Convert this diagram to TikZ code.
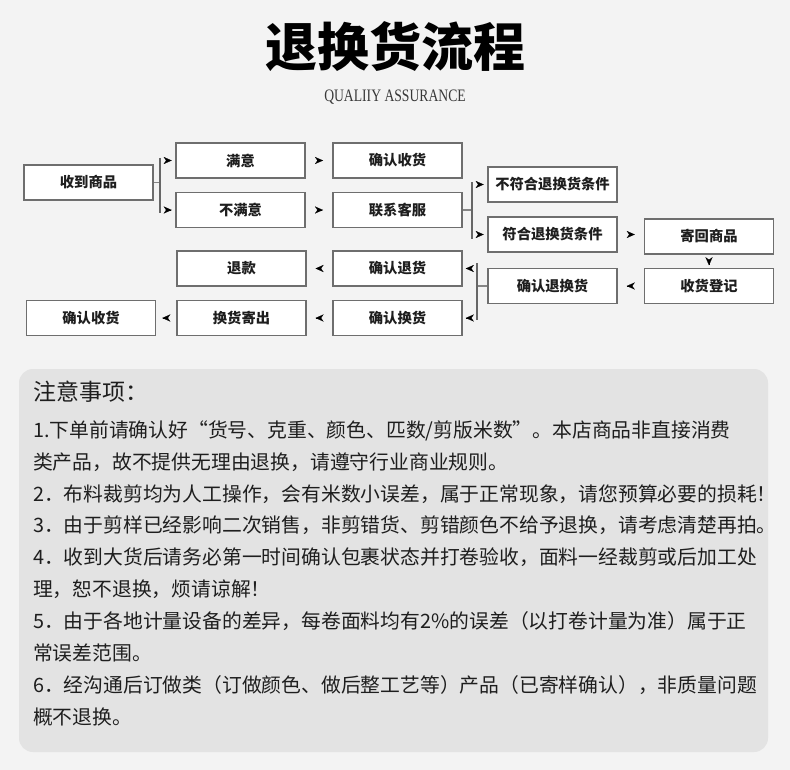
\documentclass[tikz,border=0pt]{standalone}
\usepackage{graphicx}
\usepackage{fontspec}
\setmainfont{Liberation Serif}
\newfontfamily\cjk{Noto Sans CJK SC}
\usetikzlibrary{arrows.meta,calc}
\definecolor{bgc}{HTML}{F3F3F3}
\definecolor{panelc}{HTML}{E3E3E3}
\definecolor{linec}{HTML}{666666}
\definecolor{boxc}{HTML}{6E6E6E}
\definecolor{stubc}{HTML}{858585}
\definecolor{textc}{HTML}{1E1E1E}
\newcommand\gapar[2]{\draw[tipar] ($($(#1)!0.5!(#2)$)!3.4pt!(#2)$) -- ($($(#1)!0.5!(#2)$)!4pt!(#2)$);}
\begin{document}
\begin{tikzpicture}[x=1pt,y=-1pt,
  box/.style={draw=boxc, line width=1.2pt, fill=white, minimum width=129pt, minimum height=35pt,
    inner sep=0pt, font=\cjk\bfseries\fontsize{14.3}{16}\selectfont, text=textc},
  tipar/.style={-{Stealth[length=8pt,width=7pt,inset=2.4pt]}, line width=0.1pt, black},
  bar/.style={draw=linec, line width=2.4pt},
  stub/.style={draw=stubc, line width=1.5pt},
  note/.style={anchor=west, inner sep=0pt, text=textc, font=\cjk\fontsize{19.8}{22}\selectfont}]
\useasboundingbox (0,0) rectangle (790,770);
\fill[bgc] (0,0) rectangle (790,770);

% title
\node[font=\cjk\bfseries\fontsize{52}{56}\selectfont, text=black] (title) at (395,47) {退换货流程};
\node[font=\fontsize{17.5}{19}\selectfont, text=black!78] (sub) at (395,97) {\scalebox{0.78}[1]{QUALIIY ASSURANCE}};

% boxes
\node[box] (recv)   at (88.5,182.5) {收到商品};
\node[box] (sat)    at (240.5,160.5) {满意};
\node[box] (unsat)  at (240.5,210) {不满意};
\node[box] (ok1)    at (397.5,160.5) {确认收货};
\node[box] (cs)     at (397.5,210) {联系客服};
\node[box] (no)     at (552.5,184.5) {不符合退换货条件};
\node[box] (yes)    at (552.5,234.5) {符合退换货条件};
\node[box] (send)   at (709,236.5) {寄回商品};
\node[box] (reg)    at (709,286) {收货登记};
\node[box] (conf)   at (552.5,286) {确认退换货};
\node[box] (cret)   at (397.5,268.5) {确认退货};
\node[box] (cex)    at (397.5,318) {确认换货};
\node[box] (refund) at (241.5,268.5) {退款};
\node[box] (shipx)  at (241.5,318) {换货寄出};
\node[box] (ok2)    at (91,318) {确认收货};

% bracket 1
\coordinate (b1) at (160,182.5);
\draw[stub] (recv.east) -- (b1);
\draw[bar] ($(b1 |- sat.west)+(0,-2.5)$) -- ($(b1 |- unsat.west)+(0,3)$);
\gapar{b1 |- sat.west}{sat.west}
\gapar{b1 |- unsat.west}{unsat.west}

% bracket 2
\coordinate (b2) at (472,210);
\draw[stub] (cs.east) -- (b2);
\draw[bar] ($(b2 |- no.west)+(0,-2)$) -- ($(b2 |- yes.west)+(0,5)$);
\gapar{b2 |- no.west}{no.west}
\gapar{b2 |- yes.west}{yes.west}

% bracket 3
\coordinate (b3) at (477,286);
\draw[stub] (conf.west) -- (b3);
\draw[bar] ($(b3 |- cret.east)+(0,-5)$) -- ($(b3 |- cex.east)+(0,2)$);
\gapar{b3 |- cret.east}{cret.east}
\gapar{b3 |- cex.east}{cex.east}

% direct arrows
\gapar{sat.east}{ok1.west}
\gapar{unsat.east}{cs.west}
\gapar{yes.east}{send.west |- yes.east}
\gapar{send.south}{reg.north}
\gapar{reg.west}{conf.east}
\gapar{cret.west}{refund.east}
\gapar{cex.west}{shipx.east}
\gapar{shipx.west}{ok2.east}

% notes panel
\fill[panelc, rounded corners=14pt] (19,369) rectangle (768,752);
\node[note, font=\cjk\fontsize{23}{26}\selectfont] (h) at (33,392) {注意事项：};
\node[note] (l1) at (33,431) {1.下单前请确认好“货号、克重、颜色、匹数/剪版米数”。本店商品非直接消费};
\node[note] (l2) at (33,462) {类产品，故不提供无理由退换，请遵守行业商业规则。};
\node[note] (l3) at (33,494) {2．布料裁剪均为人工操作，会有米数小误差，属于正常现象，请您预算必要的损耗！};
\node[note] (l4) at (33,525) {3．由于剪样已经影响二次销售，非剪错货、剪错颜色不给予退换，请考虑清楚再拍。};
\node[note] (l5) at (33,557) {4．收到大货后请务必第一时间确认包裹状态并打卷验收，面料一经裁剪或后加工处};
\node[note] (l6) at (33,589) {理，恕不退换，烦请谅解！};
\node[note] (l7) at (33,621) {5．由于各地计量设备的差异，每卷面料均有2\%的误差（以打卷计量为准）属于正};
\node[note] (l8) at (33,653) {常误差范围。};
\node[note] (l9) at (33,685) {6．经沟通后订做类（订做颜色、做后整工艺等）产品（已寄样确认），非质量问题};
\node[note] (l10) at (33,717) {概不退换。};
\end{tikzpicture}
\end{document}
